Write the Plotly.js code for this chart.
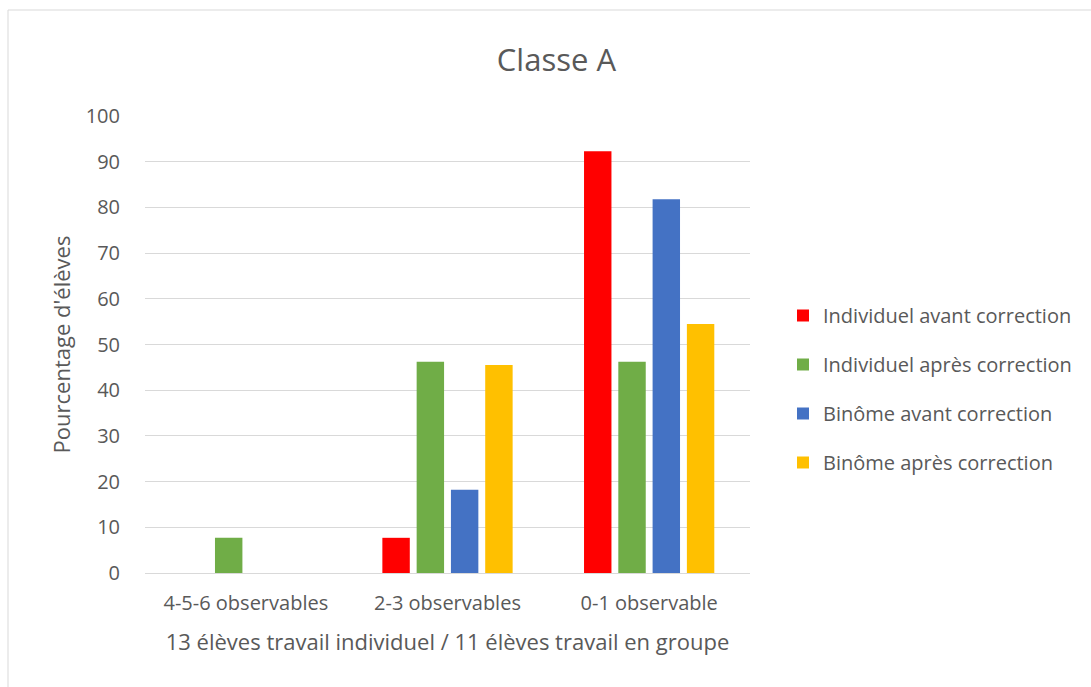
<!DOCTYPE html>
<html>
<head>
<meta charset="utf-8">
<script src="https://cdn.plot.ly/plotly-3.0.1.min.js"></script>
<style>
html,body{margin:0;padding:0;background:#fff;}
#chart{width:1091px;height:687px;}
</style>
</head>
<body>
<div id="chart"></div>
<script>
const categories = ["4-5-6 observables", "2-3 observables", "0-1 observable"];
const seriesNames = ["Individuel avant correction", "Individuel après correction", "Binôme avant correction", "Binôme après correction"];
const indivAvant = [0, 7.7, 92.3];
const indivApres = [7.7, 46.2, 46.2];
const binomeAvant = [0, 18.2, 81.8];
const binomeApres = [0, 45.5, 54.5];
const colors = ["#ff0000", "#70ad47", "#4472c4", "#ffc000"];
const yTicks = [0, 10, 20, 30, 40, 50, 60, 70, 80, 90, 100];

const allValues = [indivAvant, indivApres, binomeAvant, binomeApres];
const fontFam = "'Open Sans', 'Noto Sans', sans-serif";
const textColor = "#595959";

const traces = allValues.map((vals, i) => ({
  type: "bar",
  name: seriesNames[i],
  x: categories,
  y: vals,
  marker: {color: colors[i], line: {width: 0}},
  legendgroup: "g" + i,
  hoverinfo: "x+y+name"
}));

// plot area in px: left 145, right 750, top 116, bottom 573
const L = 145, R = 750, T = 116, B = 573, W = 1091, H = 687;
const pw = R - L, ph = B - T;
const px = v => (v - L) / pw;
const py = v => (B - v) / ph;

const layout = {
  width: W, height: H,
  margin: {l: L, r: W - R, t: T, b: H - B, pad: 0},
  paper_bgcolor: "#ffffff",
  plot_bgcolor: "#ffffff",
  font: {family: fontFam, color: textColor, size: 20},
  title: {text: "Classe A", font: {size: 31, color: textColor, family: fontFam}, x: 0.51, xanchor: "center", y: 1 - 60/H, yanchor: "middle"},
  barmode: "group",
  bargap: 0.32,
  bargroupgap: 0.2,
  xaxis: {
    type: "category",
    showline: true, linecolor: "#d9d9d9", linewidth: 1,
    ticks: "", showgrid: false,
    tickfont: {size: 20, color: textColor},
    ticklabelstandoff: 12,
    title: {text: "13 élèves travail individuel / 11 élèves travail en groupe", font: {size: 22, color: textColor}, standoff: 19}
  },
  yaxis: {
    range: [0, 100],
    tickvals: yTicks,
    ticktext: yTicks.map(String),
    showgrid: true, gridcolor: "#d9d9d9", gridwidth: 1,
    zeroline: false, showline: false, ticks: "",
    tickfont: {size: 20, color: textColor},
    ticklabelstandoff: 24,
    title: {text: "Pourcentage d'élèves", font: {size: 22, color: textColor}, standoff: 8}
  },
  legend: {
    x: px(783), xanchor: "left",
    y: py(296), yanchor: "top",
    font: {size: 20, color: textColor},
    bgcolor: "rgba(0,0,0,0)",
    traceorder: "grouped",
    tracegroupgap: 20,
    itemclick: false
  },
  shapes: [{
    type: "rect", xref: "paper", yref: "paper",
    x0: px(8), x1: px(1100), y0: py(700), y1: py(10),
    line: {color: "#d9d9d9", width: 1}, fillcolor: "rgba(0,0,0,0)", layer: "below"
  }],
  showlegend: true
};

Plotly.newPlot("chart", traces, layout, {displayModeBar: false, staticPlot: true});
</script>
</body>
</html>
